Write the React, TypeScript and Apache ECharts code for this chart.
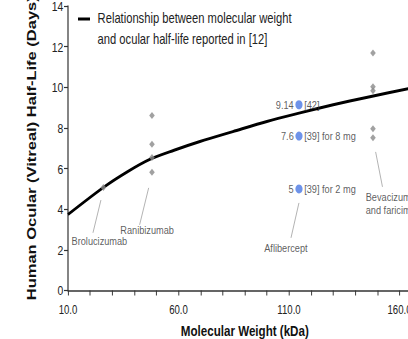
import React, { useEffect, useRef } from "react";
import * as echarts from "echarts";

// Relationship curve
const curveMW = [10, 26, 37, 47, 58, 69.7, 84.6, 100, 115, 130, 145, 164, 170];
const curveHL = [3.74, 5.07, 5.85, 6.45, 6.9, 7.33, 7.82, 8.32, 8.74, 9.14, 9.5, 9.93, 10.05];

// Reported half-lives (gray diamonds)
const brolucizumabMW = 26;
const brolucizumabHL = [5.07];
const ranibizumabMW = 48;
const ranibizumabHL = [8.61, 7.2, 6.54, 5.82];
const bevacizumabMW = 148;
const bevacizumabHL = [11.69, 10.03, 9.83, 7.96, 7.52];

// Aflibercept reports (blue circles)
const afliberceptMW = 114.5;
const afliberceptHL = [9.14, 7.6, 5];
const afliberceptValueLabels = ["9.14", "7.6", "5"];
const afliberceptRefs = ["[42]", "[39] for 8 mg", "[39] for 2 mg"];

// Annotations: label, text anchor, leader line start/end (data coords)
const annNames = ["Brolucizumab", "Ranibizumab", "Aflibercept", "Bevacizumab\nand faricimab"];
const annTextMW = [24.2, 45.8, 108.6, 144.7];
const annTextHL = [2.44, 2.98, 2.09, 4.28];
const annLineFrom = [[24.9, 4.45], [46.5, 5.05], [114.5, 4.31], [149.2, 6.82]];
const annLineTo = [[21.3, 2.84], [42.4, 3.23], [110.9, 2.59], [152.3, 5.1]];

const xTickLabels = [10, 60, 110, 160];

const FONT = "'Liberation Sans', Arial, Helvetica, sans-serif";

export default function App() {
  const ref = useRef<HTMLDivElement>(null);
  useEffect(() => {
    if (!ref.current) return;
    const chart = echarts.init(ref.current, undefined, { renderer: "svg" });
    const diamonds = [
      ...brolucizumabHL.map((v) => [brolucizumabMW, v]),
      ...ranibizumabHL.map((v) => [ranibizumabMW, v]),
      ...bevacizumabHL.map((v) => [bevacizumabMW, v]),
    ];
    const blue = afliberceptHL.map((v, i) => ({ value: [afliberceptMW, v], lbl: afliberceptValueLabels[i], ref: afliberceptRefs[i] }));
    chart.setOption({
      animation: false,
      backgroundColor: "#ffffff",
      grid: { left: 85, top: 6, width: 442, height: 284.5, containLabel: false, outerBoundsMode: "none" },
      xAxis: {
        type: "value",
        min: 10,
        max: 170,
        interval: 10,
        name: "Molecular Weight (kDa)",
        nameLocation: "middle",
        nameGap: 33,
        nameTextStyle: { fontFamily: FONT, fontWeight: "bold", fontSize: 14.5, color: "#111" },
        axisLine: { show: true, lineStyle: { color: "#333", width: 1.5 } },
        axisTick: { show: true, length: 5, lineStyle: { color: "#333", width: 1.2 } },
        axisLabel: {
          margin: 13.5,
          fontFamily: FONT,
          fontSize: 12,
          color: "#222",
          formatter: (v: number) => (xTickLabels.includes(v) ? v.toFixed(1) : ""),
        },
        splitLine: { show: false },
      },
      yAxis: {
        type: "value",
        min: 0,
        max: 14,
        interval: 2,
        name: "Human Ocular (Vitreal) Half-Life (Days)",
        nameLocation: "middle",
        nameGap: 38,
        nameTextStyle: { fontFamily: FONT, fontWeight: "bold", fontSize: 16.5, color: "#111" },
        axisLine: { show: true, lineStyle: { color: "#333", width: 1.5 } },
        axisTick: { show: true, length: 5, lineStyle: { color: "#333", width: 1.2 } },
        axisLabel: { margin: 6, fontFamily: FONT, fontSize: 13, color: "#222", showMaxLabel: true },
        splitLine: { show: false },
      },
      graphic: [
        { type: "line", shape: { x1: 97.5, y1: 19, x2: 112.5, y2: 19 }, style: { stroke: "#000", lineWidth: 3 } },
        { type: "text", x: 122, y: 19, style: { text: "Relationship between molecular weight", fontFamily: FONT, fontSize: 14, fill: "#222", verticalAlign: "middle" } },
        { type: "text", x: 122, y: 40, style: { text: "and ocular half-life reported in [12]", fontFamily: FONT, fontSize: 14, fill: "#222", verticalAlign: "middle" } },
      ],
      series: [
        {
          name: "Relationship between molecular weight and ocular half-life reported in [12]",
          type: "line",
          smooth: 0.3,
          symbol: "none",
          lineStyle: { color: "#000", width: 3 },
          data: curveMW.map((x, i) => [x, curveHL[i]]),
          z: 3,
        },
        {
          name: "Reported",
          type: "scatter",
          symbol: "diamond",
          symbolSize: 7,
          itemStyle: { color: "#8a8a8a" },
          data: diamonds,
          z: 4,
        },
        {
          name: "Aflibercept values",
          type: "scatter",
          symbol: "circle",
          symbolSize: 9,
          itemStyle: { color: "#4a78e4" },
          data: blue,
          label: {
            show: true,
            position: "left",
            distance: 2,
            fontFamily: FONT,
            fontSize: 11.5,
            color: "#333",
            formatter: (p: any) => p.data.lbl,
          },
          z: 5,
        },
        {
          name: "Aflibercept refs",
          type: "scatter",
          symbolSize: 9,
          itemStyle: { color: "rgba(0,0,0,0)" },
          silent: true,
          data: blue,
          label: {
            show: true,
            position: "right",
            distance: 2,
            fontFamily: FONT,
            fontSize: 11.5,
            color: "#333",
            formatter: (p: any) => p.data.ref,
          },
          z: 5,
        },
        {
          name: "Annotations",
          type: "scatter",
          symbolSize: 0,
          silent: true,
          itemStyle: { color: "rgba(0,0,0,0)" },
          data: annNames.map((n, i) => ({
            value: [annTextMW[i], annTextHL[i]],
            name: n,
            label: i === 3 ? { align: "left" } : {},
          })),
          label: {
            show: true,
            position: "inside",
            fontFamily: FONT,
            fontSize: 11.5,
            lineHeight: 13,
            color: "#333",
            formatter: (p: any) => p.name,
          },
          markLine: {
            silent: true,
            symbol: "none",
            label: { show: false },
            lineStyle: { color: "#aaa", width: 1, type: "solid" },
            data: annLineFrom.map((f, i) => [{ coord: f }, { coord: annLineTo[i] }]),
          },
          z: 2,
        },
      ],
    });
    return () => chart.dispose();
  }, []);
  return (
    <div style={{ position: "fixed", left: 0, top: 0, width: 408, height: 339, overflow: "hidden", background: "#fff" }}>
      <div ref={ref} style={{ width: 560, height: 339, transform: "scaleX(0.8)", transformOrigin: "0 0" }} />
    </div>
  );
}
